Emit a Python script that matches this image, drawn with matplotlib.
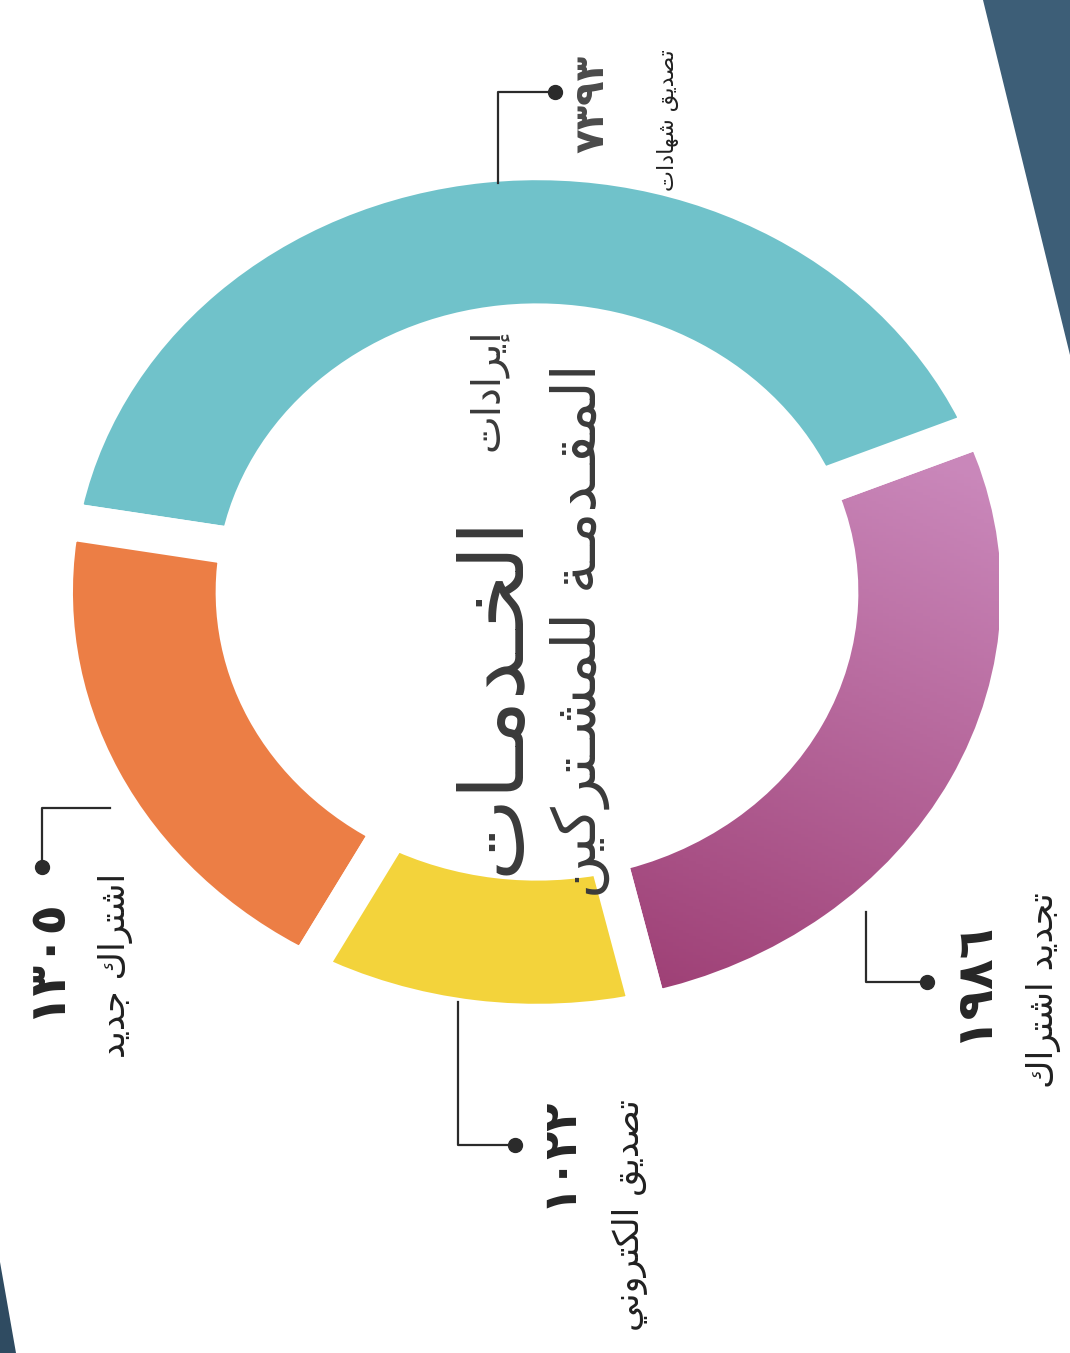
import numpy as np
import matplotlib
matplotlib.use('Agg')
import matplotlib.pyplot as plt
from matplotlib.patches import Polygon

plt.rcParams['font.family'] = ['DejaVu Sans']

# data (the ring is an infographic, arcs are not to scale)
categories = ['تجديد اشتراك', 'تصديق شهادات', 'اشتراك جديد', 'تصديق الكتروني']
values = [1986, 7393, 1305, 1022]
arc_deg = [99, 148, 71, 42]          # drawn arc of each segment, degrees
colors = ['#B35A90', '#70C2CA', '#EC7E45', '#F3D33B']
# title words (kashida ـ used to get the wide print lettering)
title_1a = 'إيرادات'
title_1b = 'الخـدمـات'
title_2 = 'المقـدمـة للمشـتركين'

# --- tiny arabic shaper (matplotlib does no joining / bidi) ---
FORMS = {
    'ـ': ('ـ', 'ـ', 'ـ', 'ـ'),
    'ا': ('\uFE8D', '\uFE8E', None, None),
    'إ': ('\uFE87', '\uFE88', None, None),
    'أ': ('\uFE83', '\uFE84', None, None),
    'ب': ('\uFE8F', '\uFE90', '\uFE91', '\uFE92'),
    'ة': ('\uFE93', '\uFE94', None, None),
    'ت': ('\uFE95', '\uFE96', '\uFE97', '\uFE98'),
    'ج': ('\uFE9D', '\uFE9E', '\uFE9F', '\uFEA0'),
    'ح': ('\uFEA1', '\uFEA2', '\uFEA3', '\uFEA4'),
    'خ': ('\uFEA5', '\uFEA6', '\uFEA7', '\uFEA8'),
    'د': ('\uFEA9', '\uFEAA', None, None),
    'ر': ('\uFEAD', '\uFEAE', None, None),
    'ز': ('\uFEAF', '\uFEB0', None, None),
    'س': ('\uFEB1', '\uFEB2', '\uFEB3', '\uFEB4'),
    'ش': ('\uFEB5', '\uFEB6', '\uFEB7', '\uFEB8'),
    'ص': ('\uFEB9', '\uFEBA', '\uFEBB', '\uFEBC'),
    'ق': ('\uFED5', '\uFED6', '\uFED7', '\uFED8'),
    'ك': ('\uFED9', '\uFEDA', '\uFEDB', '\uFEDC'),
    'ل': ('\uFEDD', '\uFEDE', '\uFEDF', '\uFEE0'),
    'م': ('\uFEE1', '\uFEE2', '\uFEE3', '\uFEE4'),
    'ن': ('\uFEE5', '\uFEE6', '\uFEE7', '\uFEE8'),
    'ه': ('\uFEE9', '\uFEEA', '\uFEEB', '\uFEEC'),
    'و': ('\uFEED', '\uFEEE', None, None),
    'ي': ('\uFEF1', '\uFEF2', '\uFEF3', '\uFEF4'),
}
LAM_ALEF = {'ا': ('\uFEFB', '\uFEFC'), 'إ': ('\uFEF9', '\uFEFA'), 'أ': ('\uFEF7', '\uFEF8')}


def shape(text):
    out = []
    prev = False
    i = 0
    while i < len(text):
        c = text[i]
        if c not in FORMS:
            out.append(c)
            prev = False
            i += 1
            continue
        nxt = text[i + 1] if i + 1 < len(text) else None
        if c == 'ل' and nxt in LAM_ALEF:
            iso, fin = LAM_ALEF[nxt]
            out.append(fin if prev else iso)
            prev = False
            i += 2
            continue
        iso, fin, ini, med = FORMS[c]
        to_next = ini is not None and nxt in FORMS
        if prev and to_next:
            out.append(med)
        elif prev:
            out.append(fin)
        elif to_next:
            out.append(ini)
        else:
            out.append(iso)
        prev = to_next
        i += 1
    return ''.join(reversed(out))


def indic(n):
    return str(n).translate(str.maketrans('0123456789', '٠١٢٣٤٥٦٧٨٩'))


W, H = 1070, 1353
fig = plt.figure(figsize=(W / 100, H / 100), dpi=100)
fig.patch.set_facecolor('white')

# background axes in pixel units
ax = fig.add_axes([0, 0, 1, 1])
ax.set_xlim(0, W)
ax.set_ylim(H, 0)
ax.axis('off')

# dark table showing at the photo edges
ax.add_patch(Polygon([(983, 0), (W, 0), (W, 355)], closed=True, color='#3D5E77', lw=0))
ax.add_patch(Polygon([(0, 1262), (16, H), (0, H)], closed=True, color='#2F4B61', lw=0))

# donut axes: slightly squashed (photo perspective)
cx, cy, rx, ry = 537, 592, 462, 412
axp = fig.add_axes([(cx - rx) / W, (H - cy - ry) / H, 2 * rx / W, 2 * ry / H])
wedges, _ = axp.pie(arc_deg, colors=colors, startangle=-76.6, radius=1.045,
                    wedgeprops=dict(width=0.39, edgecolor='white', linewidth=27,
                                    joinstyle='miter'))
axp.set_aspect('auto')
axp.set_xlim(-1, 1)
axp.set_ylim(-1, 1)
axp.axis('off')
for w in wedges:
    w.set_clip_on(False)

# purple segment has a soft gradient in the print
pw = wedges[0]
gx, gy = np.meshgrid(np.linspace(-1.1, 1.1, 300), np.linspace(-1.1, 1.1, 300))
t = np.clip(((gx - 0.2) * 0.5 + (gy + 0.95) * 1.0) / 1.6, 0, 1)
c0 = np.array([0.62, 0.25, 0.46])
c1 = np.array([0.79, 0.53, 0.73])
img = c0[None, None, :] * (1 - t[..., None]) + c1[None, None, :] * t[..., None]
im = axp.imshow(img, extent=(-1.1, 1.1, -1.1, 1.1), origin='lower', zorder=0.5,
                aspect='auto')
im.set_clip_path(pw)
pw.set_facecolor('none')

# annotation axes on top of the ring
at = fig.add_axes([0, 0, 1, 1])
at.set_xlim(0, W)
at.set_ylim(H, 0)
at.axis('off')

lead = [
    [(866, 912), (866, 982), (927, 982)],
    [(498, 183), (498, 92), (555, 92)],
    [(110, 808), (42, 808), (42, 867)],
    [(458, 1002), (458, 1145), (515, 1145)],
]
num_pos = [(972, 982), (592, 104), (45, 958), (558, 1152)]
num_size = [36, 29, 36, 33]
lab_pos = [(1043, 990), (668, 120), (115, 965), (630, 1215)]
lab_size = [25, 16, 25, 25]
num_col = ['#262626', '#4a4a4a', '#262626', '#262626']

for k in range(len(categories)):
    xs = [p[0] for p in lead[k]]
    ys = [p[1] for p in lead[k]]
    at.plot(xs, ys, color='#2b2b2b', lw=1.6)
    at.plot(xs[-1], ys[-1], 'o', color='#2b2b2b', ms=10)
    at.text(num_pos[k][0], num_pos[k][1], indic(values[k]), rotation=90,
            ha='center', va='center', fontsize=num_size[k], fontweight='bold',
            color=num_col[k])
    at.text(lab_pos[k][0], lab_pos[k][1], shape(categories[k]), rotation=90,
            ha='center', va='center', fontsize=lab_size[k], color='#202020')

# centre title
at.text(488, 390, shape(title_1a), rotation=90, ha='center', va='center',
        fontsize=29, color='#3a3a3a')
at.text(494, 695, shape(title_1b), rotation=90, ha='center', va='center',
        fontsize=63, color='#3a3a3a')
at.text(580, 631, shape(title_2), rotation=90, ha='center', va='center',
        fontsize=43, color='#3a3a3a')

fig.savefig('out.png', dpi=100, facecolor='white')
